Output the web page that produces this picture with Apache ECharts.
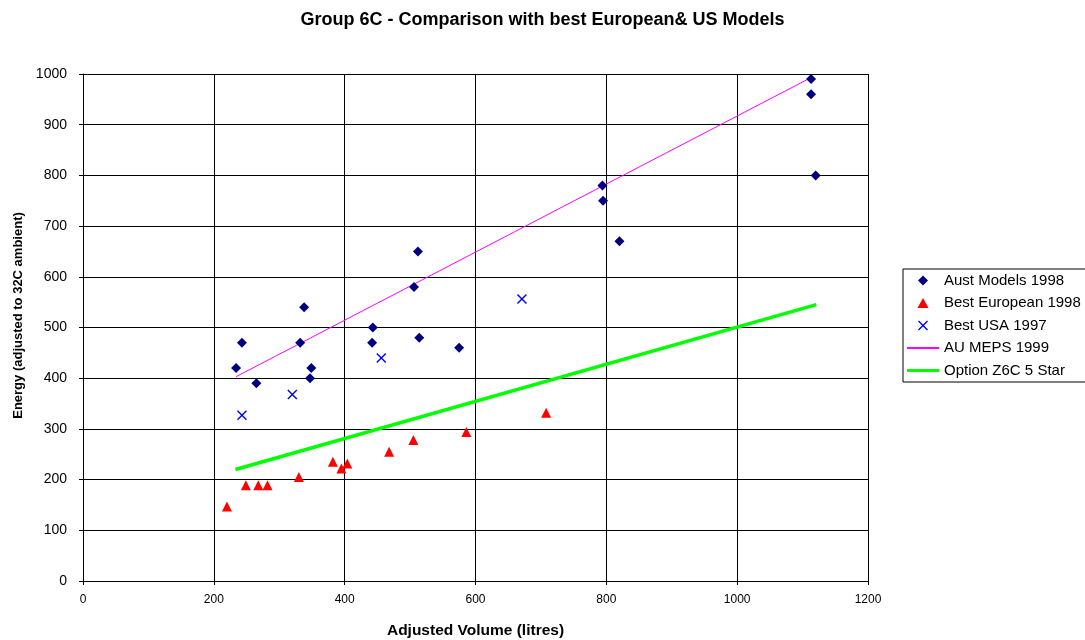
<!DOCTYPE html>
<html>
<head>
<meta charset="utf-8">
<script src="https://cdn.jsdelivr.net/npm/echarts@6/dist/echarts.min.js"></script>
<style>
  html, body { margin: 0; padding: 0; background: #fff; }
  #main { width: 1085px; height: 640px; }
</style>
</head>
<body>
<div id="main"></div>
<script>
// data: [adjusted volume, energy]
const austModels1998 = [
  [234, 420], [243, 470], [265, 390], [332, 470], [338, 540], [347, 400],
  [349, 420], [442, 470], [443, 500], [506, 580], [512, 650], [514, 480],
  [575, 460], [794, 780], [795, 750], [820, 670], [1113, 990], [1113, 960],
  [1120, 800]
];
const bestEuropean1998 = [
  [220, 147], [249, 189], [268, 189], [282, 189], [330, 205], [382, 235],
  [395, 222], [404, 232], [468, 255], [505, 278], [586, 294], [708, 332]
];
const bestUSA1997 = [
  [243, 327], [320, 368], [456, 440], [671, 556]
];
const auMeps1999 = [[234, 403], [1113, 993]];
const optionZ6C5Star = [[233, 220], [1121, 545]];

const xTicks = { min: 0, max: 1200, interval: 200 };
const yTicks = { min: 0, max: 1000, interval: 100 };

const font = 'Liberation Sans, Arial, sans-serif';
const crossPath = 'path://M0,1L1,0L5,4L9,0L10,1L6,5L10,9L9,10L5,6L1,10L0,9L4,5Z';

const myChart = echarts.init(document.getElementById('main'));

const option = {
  animation: false,
  textStyle: { fontFamily: font, color: '#000' },
  title: {
    text: 'Group 6C - Comparison with best European& US Models',
    left: 'center',
    top: 6,
    textStyle: { fontSize: 18, fontWeight: 'bold', color: '#000', fontFamily: font },
  },
  legend: {
    orient: 'vertical',
    left: 903,
    top: 269,
    padding: [4, 30, 4, 4],
    itemGap: 7.5,
    itemWidth: 32,
    itemHeight: 10,
    borderColor: '#000',
    borderWidth: 1,
    textStyle: { fontSize: 15, color: '#000', fontFamily: font },
    data: [
      { name: 'Aust Models 1998', icon: 'path://M5,0L10,5L5,10L0,5Z' },
      { name: 'Best European 1998', icon: 'path://M5,0L10,9L0,9Z' },
      { name: 'Best USA 1997', icon: crossPath },
      { name: 'AU MEPS 1999', icon: 'path://M0,0L32,0L32,2L0,2Z' },
      { name: 'Option Z6C 5 Star', icon: 'path://M0,0L32,0L32,3L0,3Z' },
    ],
  },
  grid: { left: 83, right: 217, top: 74, bottom: 59, outerBoundsMode: 'none' },
  xAxis: {
    type: 'value',
    ...xTicks,
    name: 'Adjusted Volume (litres)',
    nameLocation: 'middle',
    nameGap: 42,
    nameTextStyle: { fontSize: 15.5, fontWeight: 'bold', color: '#000' },
    axisLine: { lineStyle: { color: '#000' } },
    axisTick: { show: true, length: 4, lineStyle: { color: '#000' } },
    axisLabel: { fontSize: 12, color: '#000', margin: 13, formatter: (v) => String(v) },
    splitLine: { show: true, lineStyle: { color: '#000', width: 1 } },
  },
  yAxis: {
    type: 'value',
    ...yTicks,
    name: 'Energy (adjusted to 32C ambient)',
    nameLocation: 'middle',
    nameGap: 56,
    nameTextStyle: { fontSize: 13, fontWeight: 'bold', color: '#000', padding: [0, 0, 0, 24] },
    axisLine: { show: true, lineStyle: { color: '#000' } },
    axisTick: { show: true, length: 4, lineStyle: { color: '#000' } },
    axisLabel: { fontSize: 14, color: '#000', margin: 16, formatter: (v) => String(v) },
    splitLine: { show: true, lineStyle: { color: '#000', width: 1 } },
  },
  series: [
    {
      name: 'Aust Models 1998',
      type: 'scatter',
      data: austModels1998,
      symbol: 'diamond',
      symbolSize: 10,
      itemStyle: { color: '#000080', opacity: 1 },
      z: 5,
    },
    {
      name: 'Best European 1998',
      type: 'scatter',
      data: bestEuropean1998,
      symbol: 'triangle',
      symbolSize: 10,
      itemStyle: { color: '#FF0000', opacity: 1 },
      z: 5,
    },
    {
      name: 'Best USA 1997',
      type: 'scatter',
      data: bestUSA1997,
      symbol: crossPath,
      symbolSize: 10,
      itemStyle: { color: '#0000FF', opacity: 1 },
      z: 5,
    },
    {
      name: 'AU MEPS 1999',
      type: 'line',
      data: auMeps1999,
      showSymbol: false,
      lineStyle: { color: '#FF00FF', width: 1 },
      itemStyle: { color: '#FF00FF' },
      z: 3,
    },
    {
      name: 'Option Z6C 5 Star',
      type: 'line',
      data: optionZ6C5Star,
      showSymbol: false,
      lineStyle: { color: '#00FF00', width: 3.5 },
      itemStyle: { color: '#00FF00' },
      z: 3,
    },
  ],
};

myChart.setOption(option);
</script>
</body>
</html>
